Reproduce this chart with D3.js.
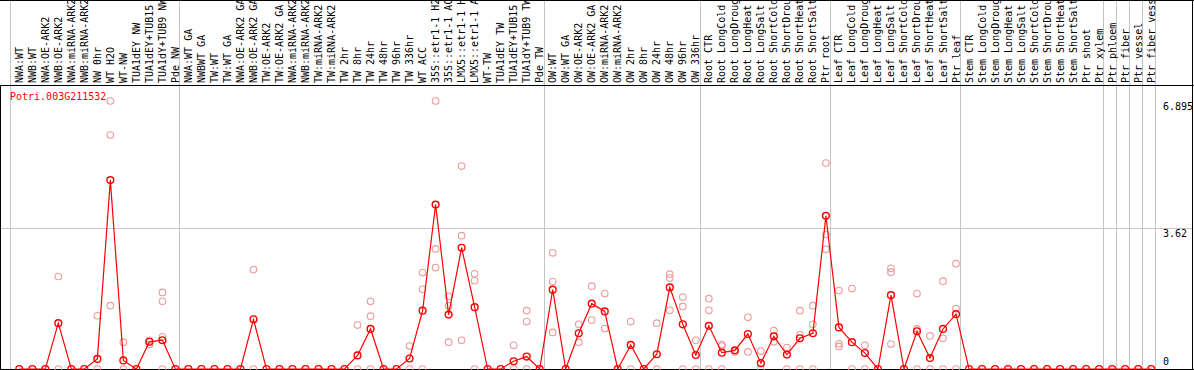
<!DOCTYPE html>
<html>
<head>
<meta charset="utf-8">
<script src="https://cdn.jsdelivr.net/npm/d3@7"></script>
<style>
  body { margin: 0; background: #fff; }
  svg { display: block; font-family: "DejaVu Sans Mono", monospace; }
</style>
</head>
<body>
<div id="graph"></div>
<script>
// Data
const geneName = "Potri.003G211532";

const categories = [
  "NWA:WT", "NWB:WT", "NWA:OE-ARK2", "NWB:OE-ARK2", "NWA:miRNA-ARK2", "NWB:miRNA-ARK2",
  "NW 0hr", "WT H2O", "WT-NW", "TUA1dEY NW", "TUA1dEY+TUB15", "TUA1dY+TUB9 NW", "Pde NW",
  "NWA:WT GA", "NWBWT GA", "TW:WT", "TW:WT GA", "NWA:OE-ARK2 GA", "NWB:OE-ARK2 GA",
  "TW:OE-ARK2", "TW:OE-ARK2 GA", "NWA:miRNA-ARK2", "NWB:miRNA-ARK2", "TW:miRNA-ARK2", "TW:miRNA-ARK2",
  "TW 2hr", "TW 8hr", "TW 24hr", "TW 48hr", "TW 96hr", "TW 336hr", "WT ACC",
  "35S::etr1-1 H2O", "35S::etr1-1 ACC", "LMX5::etr1-1 H2O", "LMX5::etr1-1 ACC",
  "WT-TW", "TUA1dEY TW", "TUA1dEY+TUB15", "TUA1dY+TUB9 TW", "Pde TW",
  "OW:WT", "OW:WT GA", "OW:OE-ARK2", "OW:OE-ARK2 GA", "OW:miRNA-ARK2", "OW:miRNA-ARK2",
  "OW 2hr", "OW 8hr", "OW 24hr", "OW 48hr", "OW 96hr", "OW 336hr",
  "Root CTR", "Root LongCold", "Root LongDrought", "Root LongHeat", "Root LongSalt",
  "Root ShortCold", "Root ShortDrought", "Root ShortHeat", "Root ShortSalt", "Ptr root",
  "Leaf CTR", "Leaf LongCold", "Leaf LongDrought", "Leaf LongHeat", "Leaf LongSalt",
  "Leaf ShortCold", "Leaf ShortDrought", "Leaf ShortHeat", "Leaf ShortSalt", "Ptr leaf",
  "Stem CTR", "Stem LongCold", "Stem LongDrought", "Stem LongHeat", "Stem LongSalt",
  "Stem ShortCold", "Stem ShortDrought", "Stem ShortHeat", "Stem ShortSalt", "Ptr shoot", "Ptr xylem",
  "Ptr phloem", "Ptr fiber", "Ptr vessel", "Ptr fiber vessel"
];

// group separators (category index where a new block starts)
const groupBreaks = [0, 13, 41, 53, 63, 73, 84, 85, 86, 87, 88];

const meanValues = [
  0, 0, 0, 1.18, 0, 0, 0.26, 4.86, 0.22, 0, 0.70, 0.74, 0,
  0, 0, 0, 0, 0, 1.28, 0, 0, 0, 0, 0, 0,
  0, 0.35, 1.03, 0, 0, 0.27, 1.50, 4.23, 1.40, 3.12, 1.59, 0, 0, 0.20, 0.32, 0,
  2.04, 0, 0.92, 1.68, 1.48, 0, 0.62, 0, 0.38, 2.10, 1.15, 0.36,
  1.11, 0.42, 0.48, 0.90, 0.15, 0.84, 0.37, 0.79, 0.92, 3.94,
  1.07, 0.69, 0.41, 0, 1.90, 0, 0.97, 0.28, 1.03, 1.41,
  0, 0, 0, 0, 0, 0, 0, 0, 0, 0, 0,
  0, 0, 0, 0
];

const replicateValues = [
  [], [], [], [2.38, 0], [], [], [1.37, 0], [6.895, 6.02, 1.63], [0.69, 0], [], [0.74, 0.63], [1.97, 1.74, 0.83, 0], [],
  [], [], [], [], [], [2.56, 0], [], [], [], [], [], [],
  [], [1.13, 0], [1.74, 1.36, 0], [], [], [0.59, 0], [2.48, 2.05, 0], [6.895, 3.09, 2.61], [1.87, 1.63, 0.69],
  [5.22, 3.43, 0.74], [2.45, 2.27, 0], [], [], [0.61, 0], [1.50, 1.22, 0], [],
  [2.99, 2.25, 0.94], [], [1.15, 0.69], [2.13, 1.26], [1.94, 1.04], [], [1.22, 0], [], [1.18, 0],
  [2.44, 2.34, 1.51], [1.85, 1.61, 0], [0.74, 0],
  [1.81, 1.51, 0], [0.63, 0.59, 0], [0.44], [1.33, 0.44], [0.46, 0], [0.99, 0.70], [0.55, 0],
  [0.88, 1.50, 0], [1.63, 1.15, 0], [5.30, 3.46, 3.08],
  [2.02, 0.65, 0.58], [2.07, 0], [0.61, 0], [], [2.59, 2.49, 0.64], [], [1.94, 1.03, 0], [0.85, 0],
  [2.26, 0.79, 0], [2.71, 1.55, 0],
  [], [], [], [], [], [], [], [], [], [], [],
  [], [], [], []
];

const yTickValues = [6.895, 3.62, 0];
const yGridValues = [3.62];

// Layout
const width = 1194, height = 370;
const headerBottom = 85, plotBottom = 369;

const svg = d3.select("#graph")
  .append("svg")
  .attr("width", width)
  .attr("height", height);

const x = d3.scaleLinear().domain([0, categories.length]).range([10.3, 1155.2]);
const xPoint = i => x(i + 0.69);
const y = d3.scaleLinear().domain([0, 6.895]).range([plotBottom, 101]);

const crisp = v => Math.round(v) + 0.5;

// Grid
svg.selectAll(".vgrid")
  .data(groupBreaks)
  .enter()
  .append("line")
  .attr("class", "vgrid")
  .attr("x1", d => crisp(x(d)))
  .attr("x2", d => crisp(x(d)))
  .attr("y1", 0)
  .attr("y2", plotBottom)
  .attr("stroke", "#c4c4c4")
  .attr("stroke-width", 1);

svg.selectAll(".hgrid")
  .data(yGridValues)
  .enter()
  .append("line")
  .attr("class", "hgrid")
  .attr("x1", 0)
  .attr("x2", width - 1)
  .attr("y1", d => crisp(y(d)))
  .attr("y2", d => crisp(y(d)))
  .attr("stroke", "#c4c4c4")
  .attr("stroke-width", 1);

// Frame
const frame = svg.append("g").attr("stroke", "#000").attr("stroke-width", 1).attr("shape-rendering", "crispEdges");
frame.append("line").attr("x1", 0).attr("x2", width).attr("y1", 0.5).attr("y2", 0.5);
frame.append("line").attr("x1", 0).attr("x2", width).attr("y1", headerBottom + 0.5).attr("y2", headerBottom + 0.5);
frame.append("line").attr("x1", 0).attr("x2", width).attr("y1", plotBottom + 0.5).attr("y2", plotBottom + 0.5);
frame.append("line").attr("x1", 0.5).attr("x2", 0.5).attr("y1", headerBottom).attr("y2", height);
frame.append("line").attr("x1", width - 1.5).attr("x2", width - 1.5).attr("y1", 0).attr("y2", height);

// Category labels (vertical)
svg.selectAll(".cat-label")
  .data(categories)
  .enter()
  .append("text")
  .attr("class", "cat-label")
  .attr("transform", (d, i) => `translate(${xPoint(i) + 3.5},83) rotate(-90)`)
  .style("font-size", "10px")
  .attr("fill", "#000")
  .text(d => d);

// Y labels
svg.selectAll(".y-label")
  .data(yTickValues)
  .enter()
  .append("text")
  .attr("class", "y-label")
  .attr("x", 1163)
  .attr("y", d => d === 0 ? y(d) - 4 : y(d) + 8.5)
  .style("font-size", "10px")
  .attr("fill", "#000")
  .text(d => d);

// Gene name
svg.append("text")
  .attr("x", 10)
  .attr("y", 100)
  .style("font-size", "10px")
  .attr("fill", "#ff0000")
  .text(geneName);

// Replicates
const reps = [];
replicateValues.forEach((vals, i) => vals.forEach(v => reps.push({ i, v })));

svg.selectAll(".rep")
  .data(reps)
  .enter()
  .append("circle")
  .attr("class", "rep")
  .attr("cx", d => xPoint(d.i))
  .attr("cy", d => y(d.v))
  .attr("r", 3.3)
  .attr("fill", "none")
  .attr("stroke", "#ee9a9a")
  .attr("stroke-width", 1.1);

// Mean line
const line = d3.line()
  .x((d, i) => xPoint(i))
  .y(d => y(d));

svg.append("path")
  .datum(meanValues)
  .attr("d", line)
  .attr("fill", "none")
  .attr("stroke", "#ff0000")
  .attr("stroke-width", 1.2);

svg.selectAll(".mean")
  .data(meanValues)
  .enter()
  .append("circle")
  .attr("class", "mean")
  .attr("cx", (d, i) => xPoint(i))
  .attr("cy", d => y(d))
  .attr("r", 3.4)
  .attr("fill", "none")
  .attr("stroke", "#ff0000")
  .attr("stroke-width", 1.4);
</script>
</body>
</html>
